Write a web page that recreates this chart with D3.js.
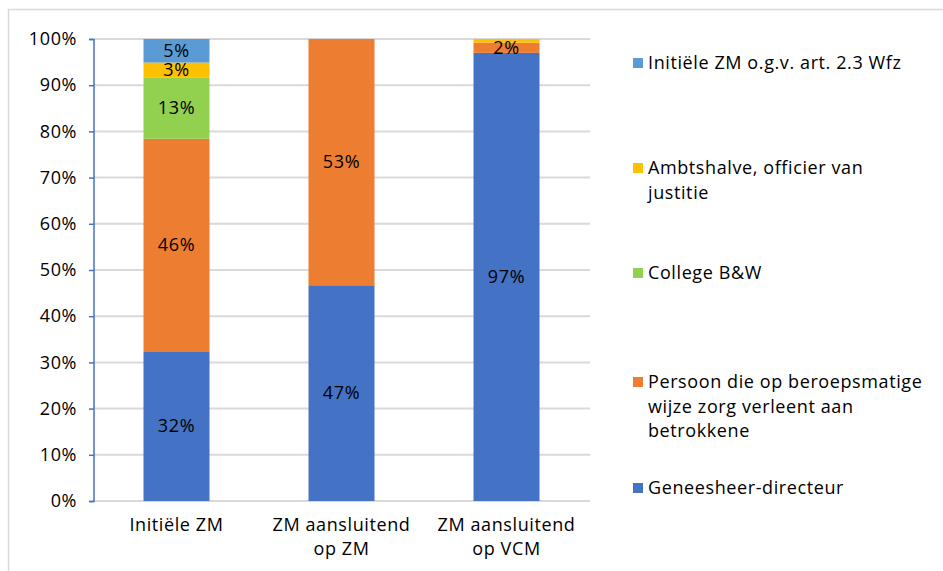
<!DOCTYPE html>
<html><head><meta charset="utf-8">
<script src="https://cdn.jsdelivr.net/npm/d3@7"></script>
<style>body{margin:0;background:#fff;} svg{display:block;} text{font-family:"Open Sans","Noto Sans",sans-serif;letter-spacing:0.6px;}</style>
</head><body><svg id="c" width="943" height="571"></svg>
<script>
const categories = [["Initiële ZM"], ["ZM aansluitend", "op ZM"], ["ZM aansluitend", "op VCM"]];
const seriesNames = ["Geneesheer-directeur", "Persoon die op beroepsmatige wijze zorg verleent aan betrokkene", "College B&W", "Ambtshalve, officier van justitie", "Initiële ZM o.g.v. art. 2.3 Wfz"];
const legendLines = [["Geneesheer-directeur"], ["Persoon die op beroepsmatige", "wijze zorg verleent aan", "betrokkene"], ["College B&W"], ["Ambtshalve, officier van", "justitie"], ["Initiële ZM o.g.v. art. 2.3 Wfz"]];
const geneesheer = [32.4, 46.7, 97.0];
const persoon = [46.0, 53.3, 2.2];
const college = [13.3, 0, 0];
const ambtshalve = [3.2, 0, 0.8];
const initieleWfz = [5.1, 0, 0];
const yTicks = [0, 10, 20, 30, 40, 50, 60, 70, 80, 90, 100];
const colors = ["#4472C4", "#ED7D31", "#92D050", "#FFC000", "#5B9BD5"];

const values = [geneesheer, persoon, college, ambtshalve, initieleWfz];
const rows = categories.map((c, i) => {
  const r = {i};
  seriesNames.forEach((s, k) => r[s] = values[k][i]);
  return r;
});
const stack = d3.stack().keys(seriesNames)(rows);

const FS = 18;
const svg = d3.select("#c");
// frame
svg.append("rect").attr("x", 8.5).attr("y", 9.5).attr("width", 960).attr("height", 600)
  .attr("fill", "none").attr("stroke", "#d9d9d9").attr("stroke-width", 1.5);

const x = d3.scaleBand().domain(d3.range(categories.length)).range([94, 589]).paddingInner(0.6).paddingOuter(0.3);
const y = d3.scaleLinear().domain([0, 100]).range([501, 39]);

// gridlines
svg.append("g").selectAll("line").data(yTicks).join("line")
  .attr("x1", 94).attr("x2", 590).attr("y1", d => y(d)).attr("y2", d => y(d))
  .attr("stroke", "#d9d9d9").attr("stroke-width", 2);

// bars
const g = svg.append("g");
stack.forEach((layer, k) => {
  g.append("g").attr("fill", colors[k]).selectAll("rect").data(layer).join("rect")
    .attr("x", (d, i) => x(i)).attr("width", x.bandwidth())
    .attr("y", d => y(d[1])).attr("height", d => Math.max(0, y(d[0]) - y(d[1])));
});
// labels
stack.forEach((layer, k) => {
  g.append("g").selectAll("text").data(layer.filter(d => d[1] - d[0] >= 1.5)).join("text")
    .attr("x", d => x(d.data.i) + x.bandwidth() / 2)
    .attr("y", d => y((d[0] + d[1]) / 2))
    .attr("dy", "0.35em").attr("text-anchor", "middle")
    .attr("font-size", FS).attr("fill", "#000")
    .text(d => Math.round(d[1] - d[0]) + "%");
});

// y axis
const yAxis = d3.axisLeft(y).tickValues(yTicks).tickSize(5).tickPadding(12).tickFormat(d => d + "%");
const ya = svg.append("g").attr("transform", "translate(94,0)").call(yAxis);
ya.select(".domain").attr("stroke", "#4472C4").attr("stroke-width", 1.5).attr("d", "M-5,39.5H0V501.5H-5");
ya.selectAll(".tick line").attr("stroke", "#4472C4").attr("stroke-width", 1.5);
ya.selectAll(".tick text").attr("font-size", FS).attr("fill", "#000").style("font-family", '"Open Sans","Noto Sans",sans-serif');

// x axis labels
const xa = svg.append("g");
categories.forEach((lines, i) => {
  const t = xa.append("text").attr("text-anchor", "middle").attr("font-size", FS).attr("fill", "#000");
  lines.forEach((l, j) => t.append("tspan").attr("x", x(i) + x.bandwidth() / 2).attr("y", 531 + j * 24).text(l));
});

// legend (top to bottom reversed order)
const legendY = [63, 168, 273, 382, 488];
const order = [4, 3, 2, 1, 0];
const lg = svg.append("g");
order.forEach((k, idx) => {
  const yy = legendY[idx];
  lg.append("rect").attr("x", 633).attr("y", yy - 5).attr("width", 10).attr("height", 10).attr("fill", colors[k]);
  const t = lg.append("text").attr("font-size", FS).attr("fill", "#000");
  legendLines[k].forEach((l, j) => t.append("tspan").attr("x", 648).attr("y", yy + j * 24.5).attr("dy", "0.35em").text(l));
});
</script></body></html>
